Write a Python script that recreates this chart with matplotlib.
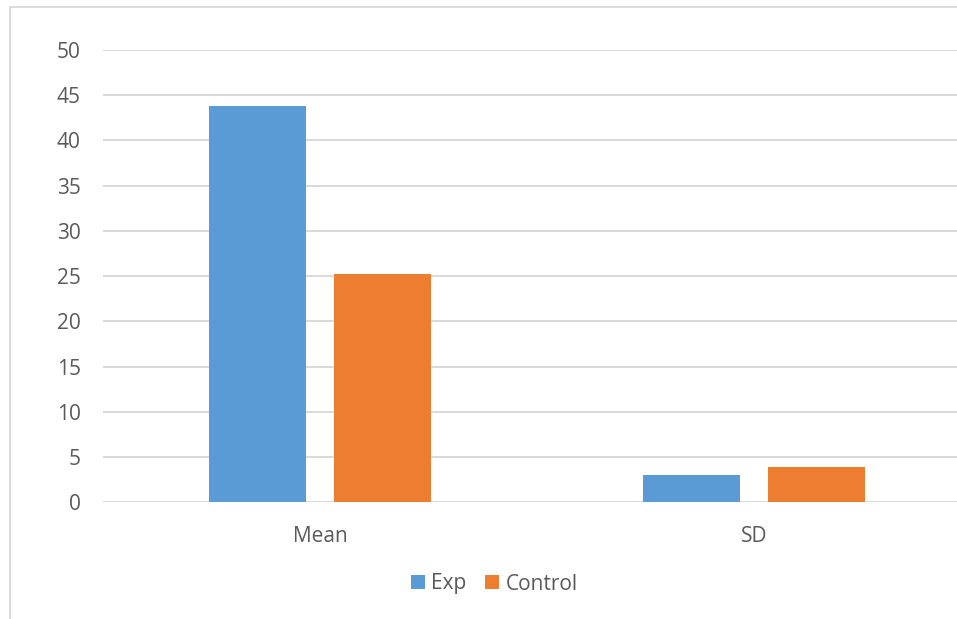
import matplotlib
matplotlib.use("Agg")
import matplotlib.pyplot as plt
import numpy as np
from matplotlib.patches import Rectangle

# data
categories = ["Mean", "SD"]
exp_values = [43.8, 3.0]
control_values = [25.2, 3.9]
y_ticks = [0, 5, 10, 15, 20, 25, 30, 35, 40, 45, 50]

BLUE = "#5B9BD5"
ORANGE = "#ED7D31"
GRID = "#D9D9D9"
TEXT = "#595959"

plt.rcParams["font.family"] = ["Open Sans", "DejaVu Sans"]
plt.rcParams["font.size"] = 15

fig = plt.figure(figsize=(9.57, 6.19), dpi=100)
W, H = 957, 619

# outer chart frame (cut off at right/bottom like the reference)
fig.patches.append(Rectangle((10 / W, -0.1), 1.2, 1 - 7 / H + 0.1,
                             transform=fig.transFigure, fill=False,
                             edgecolor=GRID, linewidth=1.3))

ax = fig.add_axes([103 / W, 1 - 502.3 / H, 868 / W, 452.3 / H])

x = np.arange(len(categories))
width = 0.2235
offset = 0.143
ax.bar(x - offset, exp_values, width, color=BLUE, label="Exp", zorder=3)
ax.bar(x + offset, control_values, width, color=ORANGE, label="Control", zorder=3)

ax.set_xlim(-0.5, len(categories) - 0.5)
ax.set_ylim(0, 50)
ax.set_yticks(y_ticks)
ax.set_xticks(x)
ax.set_xticklabels(categories)
ax.yaxis.grid(True, color=GRID, linewidth=1.4)
ax.set_axisbelow(True)
for s in ax.spines.values():
    s.set_visible(False)
ax.tick_params(axis="y", length=0, pad=16, labelcolor=TEXT)
ax.tick_params(axis="x", length=0, pad=17, labelcolor=TEXT)

fig.legend(loc="center", bbox_to_anchor=(494.5 / W, 1 - 584 / H),
           ncol=2, frameon=False, handlelength=0.67, handleheight=0.67,
           handletextpad=0.3, columnspacing=0.9, labelcolor=TEXT,
           borderpad=0, borderaxespad=0)

fig.savefig("out.png", dpi=100)
